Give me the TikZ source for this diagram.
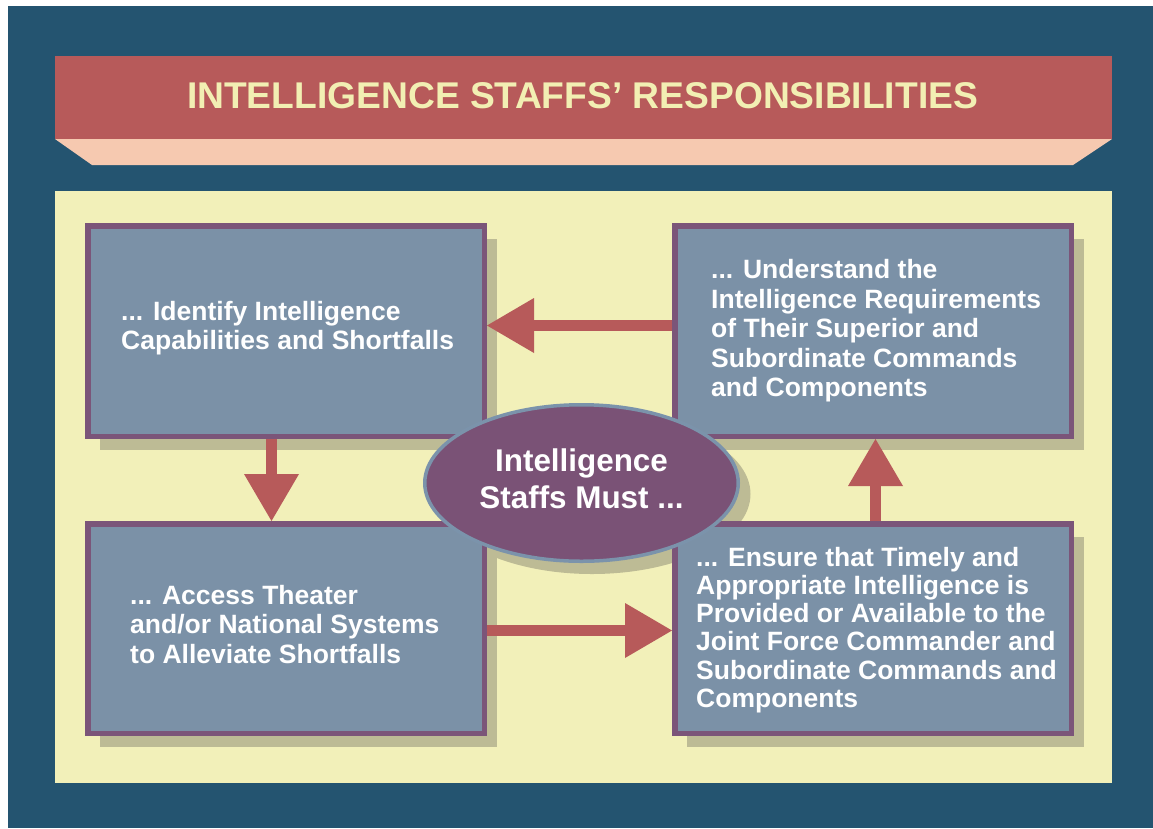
\documentclass[tikz,border=0pt]{standalone}
\usepackage{fontspec}
\setmainfont{Liberation Sans}
\usetikzlibrary{arrows.meta,shapes.geometric}
\definecolor{frameblue}{HTML}{245470}
\definecolor{bannerred}{HTML}{B75A5A}
\definecolor{peach}{HTML}{F6C9B0}
\definecolor{panelyellow}{HTML}{F2F0B9}
\definecolor{boxfill}{HTML}{7B91A7}
\definecolor{boxborder}{HTML}{7B5579}
\definecolor{shadowcol}{HTML}{BDBB95}
\definecolor{ellfill}{HTML}{7A5276}
\definecolor{ellborder}{HTML}{7B93AB}
\definecolor{titlecol}{HTML}{F2EFB3}
\tikzset{
  stepbox/.style={rectangle, fill=boxfill, draw=boxborder, line width=5.5pt, inner sep=0pt,
    minimum width=396.5pt},
  boxtext/.style={anchor=west, align=left, text=white, inner sep=0pt,
    font=\bfseries\fontsize{26.5}{29.5}\selectfont},
  shadowfill/.style={fill=shadowcol, draw=none},
  blockarrow/.style={draw=bannerred, line width=11pt,
    -{Triangle[length=47pt,width=55pt,line width=0pt]}},
}
\begin{document}
\begin{tikzpicture}[x=1pt,y=-1pt]
\useasboundingbox (0,0) rectangle (1153,828);
\fill[white] (0,0) rectangle (1153,828);
\fill[frameblue] (8,6) rectangle (1153,828);
% banner
\fill[bannerred] (55,56) rectangle (1112,139);
\fill[peach] (55,139) -- (1112,139) -- (1073,165) -- (92,165) -- cycle;
\node[text=titlecol, inner sep=0pt, font=\bfseries\fontsize{37.2}{40}\selectfont] (title) at (582.5,96)
  {INTELLIGENCE STAFFS’ RESPONSIBILITIES};
% panel
\fill[panelyellow] (55,191) rectangle (1112,783);
% shadows
\fill[shadowfill] (100,239) rectangle (497,450);
\fill[shadowfill] (687,239) rectangle (1084,450);
\fill[shadowfill] (100,537) rectangle (497,747);
\fill[shadowfill] (687,537) rectangle (1084,747);
\fill[shadowfill] (592,494) ellipse [x radius=158.5, y radius=80];
% boxes
\node[stepbox, minimum height=210.5pt] (b1) at (286,331) {};
\node[stepbox, minimum height=210.5pt] (b2) at (873,331) {};
\node[stepbox, minimum height=209.5pt] (b3) at (286,628.5) {};
\node[stepbox, minimum height=209.5pt] (b4) at (873,628.5) {};
% texts
\node[boxtext] (t1) at (121,328) {... Identify Intelligence\\Capabilities and Shortfalls};
\node[boxtext] (t2) at (711,331) {... Understand the\\Intelligence Requirements\\of Their Superior and\\Subordinate Commands\\and Components};
\node[boxtext] (t3) at (130,624.5) {... Access Theater\\and/or National Systems\\to Alleviate Shortfalls};
\node[boxtext, font=\bfseries\fontsize{26.5}{28.2}\selectfont] (t4) at (696,630)
  {... Ensure that Timely and\\Appropriate Intelligence is\\Provided or Available to the\\Joint Force Commander and\\Subordinate Commands and\\Components};
% arrows
\draw[blockarrow] ([yshift=5.5pt]b2.west) -- ([yshift=5.5pt]b1.east);
\draw[blockarrow] ([xshift=-14.5pt]b1.south) -- ([xshift=-14.5pt]b3.north);
\draw[blockarrow] ([yshift=-2pt]b3.east) -- ([yshift=-2pt]b4.west);
\draw[blockarrow] ([xshift=2.5pt]b4.north) -- ([xshift=2.5pt]b2.south);
% ellipse
\node[ellipse, fill=ellfill, draw=ellborder, line width=3.5pt, inner sep=0pt,
  minimum width=313.5pt, minimum height=156.5pt] (core) at (581.5,483) {};
\node[align=center, text=white, inner sep=0pt, font=\bfseries\fontsize{31.4}{37}\selectfont] (coretext)
  at (581.5,479) {Intelligence\\Staffs Must ...};
\end{tikzpicture}
\end{document}
